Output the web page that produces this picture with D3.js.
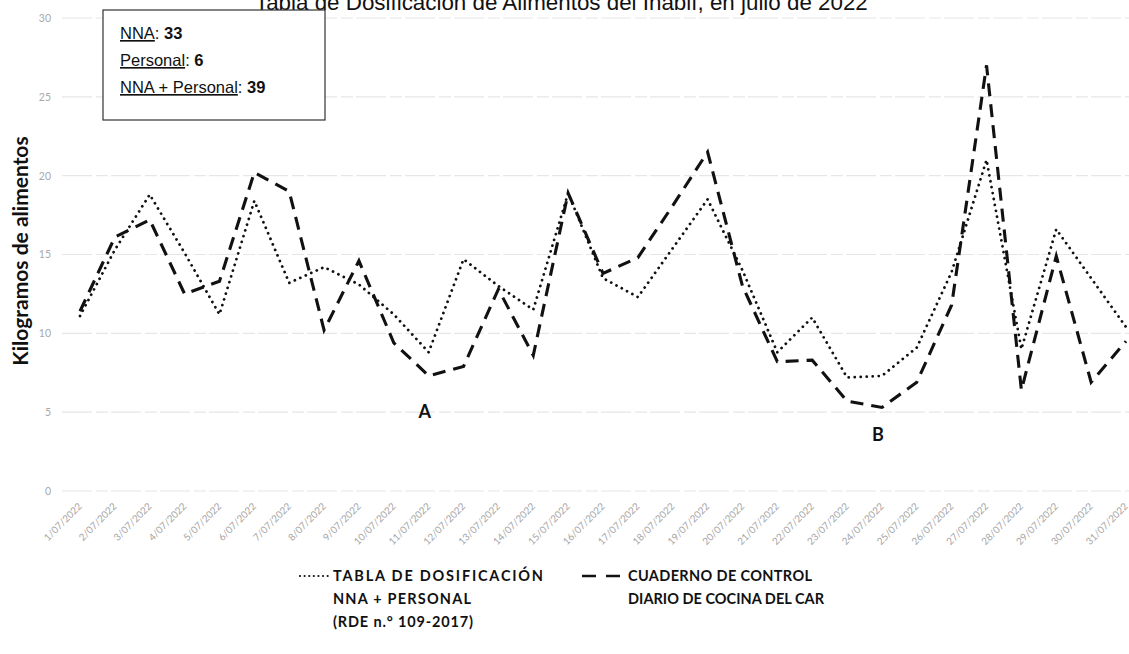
<!DOCTYPE html>
<html><head><meta charset="utf-8">
<script src="https://cdn.jsdelivr.net/npm/d3@7"></script>
<style>
body{margin:0;background:#fff;}
svg{display:block;}
</style>
</head><body>
<svg id="chart" width="1129" height="654"></svg>
<script>
// ---------- DATA ----------
const dates = ["1/07/2022","2/07/2022","3/07/2022","4/07/2022","5/07/2022","6/07/2022","7/07/2022","8/07/2022","9/07/2022","10/07/2022","11/07/2022","12/07/2022","13/07/2022","14/07/2022","15/07/2022","16/07/2022","17/07/2022","18/07/2022","19/07/2022","20/07/2022","21/07/2022","22/07/2022","23/07/2022","24/07/2022","25/07/2022","26/07/2022","27/07/2022","28/07/2022","29/07/2022","30/07/2022","31/07/2022"];
const tablaDosificacion = [11.1,15.3,18.8,15.1,11.2,18.4,13.2,14.2,13.1,11.2,8.8,14.7,13.0,11.5,18.9,13.5,12.3,15.4,18.5,14.0,8.8,11.0,7.2,7.3,9.1,13.9,21.0,9.0,16.6,13.5,10.4];
const cuadernoControl = [11.4,16.1,17.2,12.5,13.3,20.2,19.0,10.2,14.6,9.4,7.3,7.9,12.8,8.6,18.9,13.8,14.8,18.1,21.5,13.0,8.2,8.3,5.7,5.3,6.9,11.8,27.0,6.4,14.9,6.9,9.5];
const yTicks = [0,5,10,15,20,25,30];
const boxLabels = ["NNA","Personal","NNA + Personal"];
const boxValues = ["33","6","39"];
const legendTabla = ["TABLA DE DOSIFICACIÓN","NNA + PERSONAL","(RDE n.° 109-2017)"];
const legendCuaderno = ["CUADERNO DE CONTROL","DIARIO DE COCINA DEL CAR"];
const titleText = "Tabla de Dosificación de Alimentos del Inabif, en julio de 2022";
const yLabel = "Kilogramos de alimentos";
const notes = [{text:"A", day:"11/07/2022", v:5}, {text:"B", day:"24/07/2022", v:3.6}];

// ---------- LAYOUT ----------
const svg = d3.select("#chart");
const x = d3.scalePoint().domain(dates).range([80, 1126]);
const y = d3.scaleLinear().domain([0, 30]).range([491, 18]);

const labelFont = "Lato, 'Open Sans', sans-serif";

// gridlines
svg.append("g").selectAll("line").data(yTicks).join("line")
  .attr("x1", 62).attr("x2", 1129)
  .attr("y1", d => y(d)).attr("y2", d => y(d))
  .attr("stroke", "#e6e6e6").attr("stroke-width", 1.2)
  .attr("stroke-dasharray", "30 4 12 3");

// y axis
const yAxis = svg.append("g").attr("transform", "translate(54,0)")
  .call(d3.axisLeft(y).tickValues(yTicks).tickSize(0).tickPadding(3));
yAxis.select(".domain").remove();
yAxis.selectAll("text").attr("fill", "#a9a9a9").attr("font-size", 10.5)
  .attr("font-family", labelFont);

// x axis
const xAxis = svg.append("g").attr("transform", "translate(0,491)")
  .call(d3.axisBottom(x).tickSize(0).tickPadding(0));
xAxis.select(".domain").remove();
xAxis.selectAll("text")
  .attr("fill", "#a5a5a5").attr("font-size", 9.8).attr("font-family", labelFont)
  .attr("text-anchor", "end").attr("dy", 0)
  .attr("transform", "translate(2,16) rotate(-45)");

// y label
svg.append("text")
  .attr("transform", "translate(28,251) rotate(-90)")
  .attr("text-anchor", "middle")
  .attr("font-family", labelFont).attr("font-weight", 700).attr("font-size", 21)
  .attr("fill", "#111").text(yLabel);

// title (top clipped by page edge)
const title = svg.append("text")
  .attr("x", 255).attr("y", 10)
  .attr("font-family", "'Liberation Sans', Arial, sans-serif").attr("font-size", 20)
  .attr("fill", "#111").text(titleText);
const tl = title.node().getComputedTextLength();
title.attr("font-size", 20 * 613 / tl);

// lines
const lineGen = d3.line().x((d, i) => x(dates[i])).y(d => y(d));
svg.append("path").datum(tablaDosificacion)
  .attr("d", lineGen).attr("fill", "none").attr("stroke", "#111")
  .attr("stroke-width", 2.8).attr("stroke-linecap", "round")
  .attr("stroke-dasharray", "0.01 6");
svg.append("path").datum(cuadernoControl)
  .attr("d", lineGen).attr("fill", "none").attr("stroke", "#111")
  .attr("stroke-width", 3.1).attr("stroke-linecap", "butt")
  .attr("stroke-dasharray", "13 8");

// annotations
svg.append("g").selectAll("text").data(notes).join("text")
  .attr("x", d => x(d.day) - 4).attr("y", d => y(d.v))
  .attr("dy", "0.35em").attr("text-anchor", "middle")
  .attr("font-family", labelFont).attr("font-weight", 700).attr("font-size", 18)
  .attr("fill", "#111").text(d => d.text);

// info box
svg.append("rect").attr("x", 103).attr("y", 10).attr("width", 222).attr("height", 110)
  .attr("fill", "#fff").attr("stroke", "#333").attr("stroke-width", 1.2);
const boxFont = "'Liberation Sans Narrow', 'Arial Narrow', 'Liberation Sans', sans-serif";
boxLabels.forEach((lab, i) => {
  const t = svg.append("text").attr("x", 120).attr("y", 39 + i * 27)
    .attr("font-family", boxFont).attr("font-size", 16.5).attr("fill", "#111");
  t.append("tspan").attr("text-decoration", "underline").text(lab);
  t.append("tspan").text(": ");
  t.append("tspan").attr("font-weight", 700).text(boxValues[i]);
});

// bottom legend
const legFont = labelFont;
svg.append("line").attr("x1", 300).attr("x2", 328).attr("y1", 576).attr("y2", 576)
  .attr("stroke", "#111").attr("stroke-width", 2.2).attr("stroke-linecap", "round")
  .attr("stroke-dasharray", "0.01 4.6");
const legWidthsT = [210, 138, 140];
legendTabla.forEach((s, i) => {
  svg.append("text").attr("x", 333).attr("y", 581 + i * 23)
    .attr("font-family", legFont).attr("font-weight", 700).attr("font-size", 14.5)
    .attr("fill", "#111").attr("textLength", legWidthsT[i]).attr("lengthAdjust", "spacing")
    .text(s);
});
svg.append("line").attr("x1", 582).attr("x2", 620).attr("y1", 576).attr("y2", 576)
  .attr("stroke", "#111").attr("stroke-width", 2.6).attr("stroke-dasharray", "14 10");
const legWidthsC = [184, 196];
legendCuaderno.forEach((s, i) => {
  svg.append("text").attr("x", 628).attr("y", 581 + i * 23)
    .attr("font-family", legFont).attr("font-weight", 700).attr("font-size", 14.5)
    .attr("fill", "#111").attr("textLength", legWidthsC[i]).attr("lengthAdjust", "spacing")
    .text(s);
});
</script>
</body></html>
